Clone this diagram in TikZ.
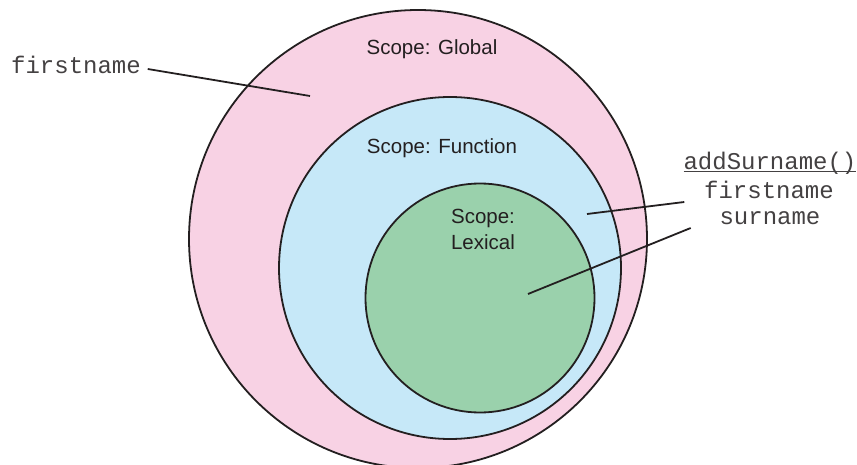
\documentclass[tikz,border=0pt]{standalone}
\usepackage{fontspec}
\setmainfont{Liberation Sans}
\setmonofont{Liberation Mono}
\definecolor{pinkg}{RGB}{248,210,228}
\definecolor{bluef}{RGB}{198,232,248}
\definecolor{greenl}{RGB}{154,209,172}
\definecolor{ink}{RGB}{35,31,32}
\newcommand{\ulcode}[1]{\setbox0\hbox{#1}\rlap{\rule[-3pt]{\wd0}{1.1pt}}\box0}
\begin{document}
\begin{tikzpicture}[x=1pt,y=-1pt,line width=1.8pt,draw=ink,
  sc/.style={circle,draw=ink,inner sep=0pt},
  lbl/.style={text=ink,font=\fontsize{20.5}{26}\selectfont,align=center},
  code/.style={text=ink!85,font=\ttfamily\fontsize{24}{28}\selectfont,inner sep=2pt}]
\useasboundingbox (0,0) rectangle (857,465);
\node[sc,fill=pinkg,minimum size=458pt] (glob) at (418,239){};
\node[sc,fill=bluef,minimum size=342pt] (func) at (450,268){};
\node[sc,fill=greenl,minimum size=229pt] (lex) at (480,298){};
\node[lbl] (tglob) at (432,49){Scope: Global};
\node[lbl] (tfunc) at (442,148){Scope: Function};
\node[lbl] (tlex) at (483,229){Scope:\\Lexical};
\node[code] (fn1) at (76,65){firstname};
\node[code] (add) at (770,163){\ulcode{addSurname()}};
\node[code] (fn2) at (769,190){firstname};
\node[code] (sn) at (770,218){surname};
\coordinate (pglob) at (310,96);\coordinate (pfunc) at (587,214);\coordinate (plex) at (528,294);
\draw ([shift={(4,4)}]fn1.east)--(pglob);
\draw ([shift={(-17,12)}]fn2.west)--(pfunc);
\draw ([shift={(-26,10)}]sn.west)--(plex);
\end{tikzpicture}
\end{document}
